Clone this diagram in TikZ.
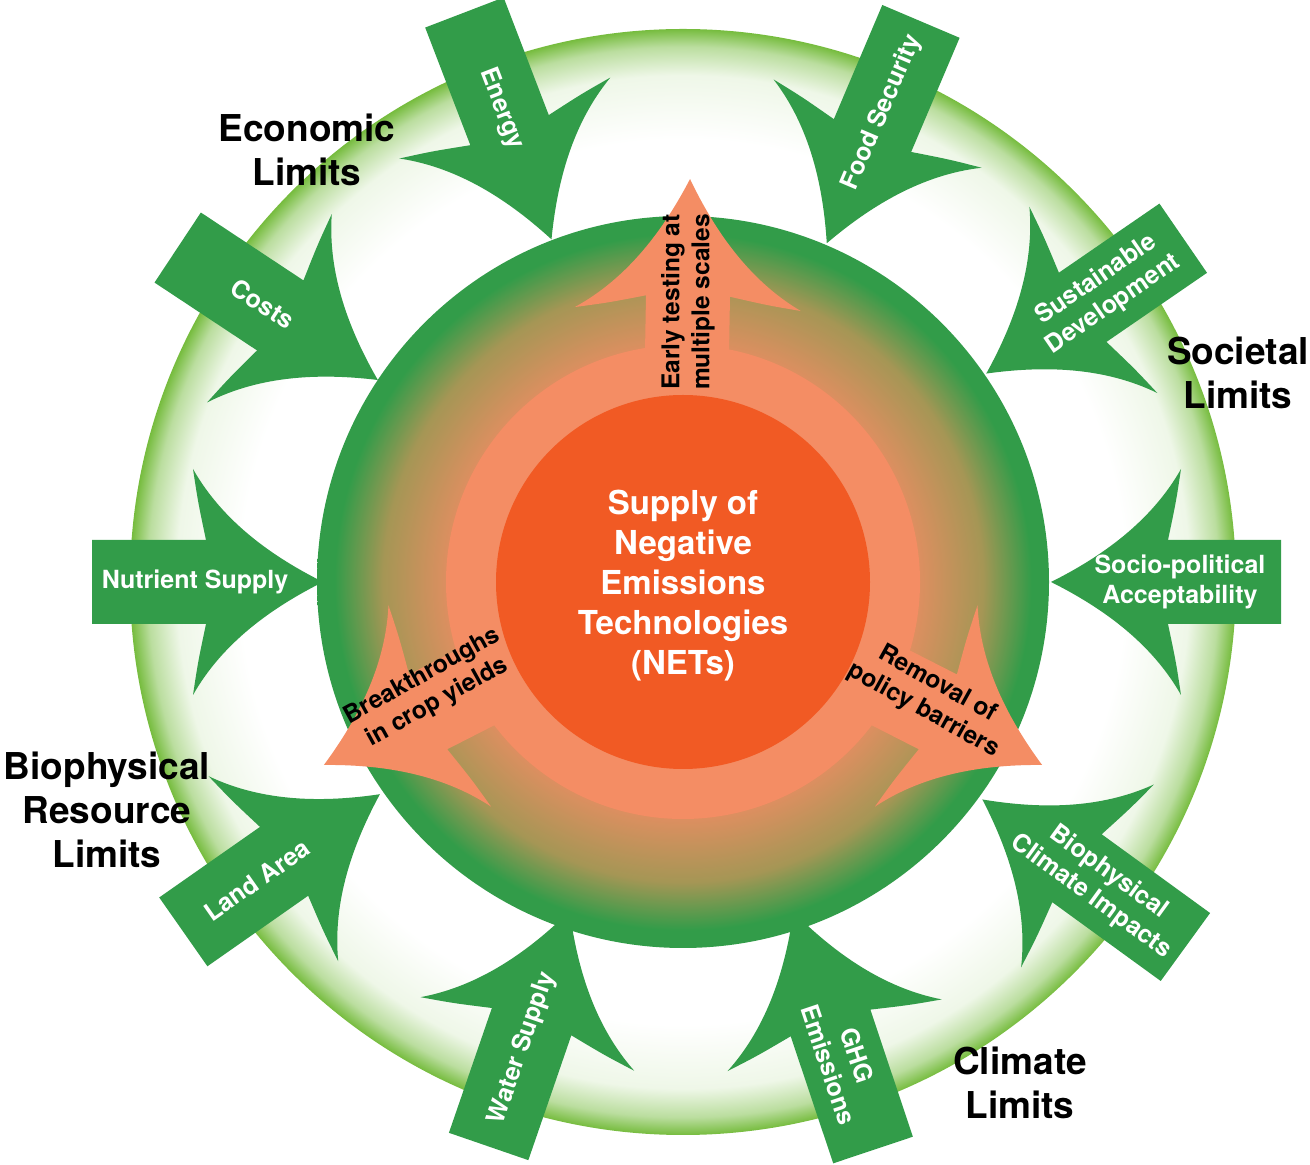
\documentclass[tikz,border=0pt]{standalone}
\usepackage{fontspec}
\setmainfont{TeX Gyre Heros}
\usepackage{xcolor}

\definecolor{netgreen}{RGB}{50,156,73}
\definecolor{ringgreen}{RGB}{118,188,62}
\definecolor{netorange}{RGB}{241,90,36}
\definecolor{netsalmon}{RGB}{244,141,100}
\definecolor{diskbrown}{RGB}{220,143,96}
\definecolor{diskolive}{RGB}{165,150,85}
\colorlet{ringpale}{ringgreen!12!white}
\colorlet{ringmid}{ringgreen!50!white}

\pgfdeclareradialshading{outerring}{\pgfpoint{0bp}{0bp}}{color(0bp)=(white); color(20bp)=(white); color(22.9bp)=(ringpale); color(24.2bp)=(ringmid); color(25bp)=(ringgreen); color(50bp)=(ringgreen)}
\pgfdeclareradialshading{innerdisk}{\pgfpoint{0bp}{0bp}}{color(0bp)=(diskbrown); color(16.2bp)=(diskbrown); color(20.5bp)=(diskolive); color(23.8bp)=(netgreen); color(50bp)=(netgreen)}

\tikzset{
  limitlabel/.style={font=\fontsize{37}{44}\selectfont\bfseries, align=center, inner sep=0pt},
  armlabel/.style={text=white, font=\fontsize{25}{30}\selectfont\bfseries, align=center, inner sep=0pt},
  pushlabel/.style={font=\fontsize{24.5}{30}\selectfont\bfseries, align=center, inner sep=0pt},
}

\newcommand{\netarrow}[2]{\fill[#1] (0,0) .. controls (50,25) and (100,60) .. (130,113) .. controls (125,80) .. (117,42) -- (#2,42) -- (#2,-42) -- (117,-42) .. controls (125,-80) .. (130,-113) .. controls (100,-60) and (50,-25) .. (0,0) -- cycle;}

\begin{document}
\begin{tikzpicture}[x=1pt,y=1pt]
\useasboundingbox (0,0) rectangle (1310,1165);
\coordinate (c) at (683,583);
\shade[shading=outerring] (c) circle (553);
\shade[shading=innerdisk] (c) circle (366);

\foreach \ang/\tipr/\len/\txtr/\rot/\lbl [count=\i] in {
    0/368/230/497/0/{Socio-political\\Acceptability},
    34.5/368/239/512/34.5/{Sustainable\\Development},
    67/368/241/510/67/{Food Security},
    111/367/243/507/-69/{Energy},
    146.5/366/240/504/-33.5/{Costs},
    180/360/231/488/0/{Nutrient Supply},
    215/370/240/520/35/{Land Area},
    251/348/249/493/71/{Water Supply},
    288.5/348/251/504/-71.5/{GHG\\Emissions},
    324/370/251/515/-36/{Biophysical\\Climate Impacts}}{
  \begin{scope}[shift={(c)}, rotate=\ang, shift={(\tipr,0)}]
    \netarrow{netgreen}{\len}
  \end{scope}
  \path (c) ++(\ang:\txtr) node[armlabel, rotate=\rot] (arm\i) {\lbl};
}

\fill[netsalmon] (c) circle (237);
\foreach \ang/\txtang/\txtr/\rot/\lbl [count=\i] in {
    89/89/280/90/{Early testing at\\multiple scales},
    207/203/275/29/{Breakthroughs\\in crop yields},
    333/335/273/-29/{Removal of\\policy barriers}}{
  \begin{scope}[shift={(c)}, rotate=\ang, shift={(403,0)}, rotate=180]
    \netarrow{netsalmon}{203}
  \end{scope}
  \path (c) ++(\txtang:\txtr) node[pushlabel, rotate=\rot] (push\i) {\lbl};
}
\fill[netorange] (c) circle (187);
\node[text=white, font=\fontsize{33}{40}\selectfont\bfseries, align=center, inner sep=0pt] (nets) at ([yshift=-4pt]c) {Supply of\\Negative\\Emissions\\Technologies\\(NETs)};

\node[limitlabel] (economic) at (307,1015) {Economic\\Limits};
\node[limitlabel] (societal) at (1238,792) {Societal\\Limits};
\node[limitlabel] (resource) at (107,355) {Biophysical\\Resource\\Limits};
\node[limitlabel] (climate) at (1020,82) {Climate\\Limits};
\end{tikzpicture}
\end{document}
